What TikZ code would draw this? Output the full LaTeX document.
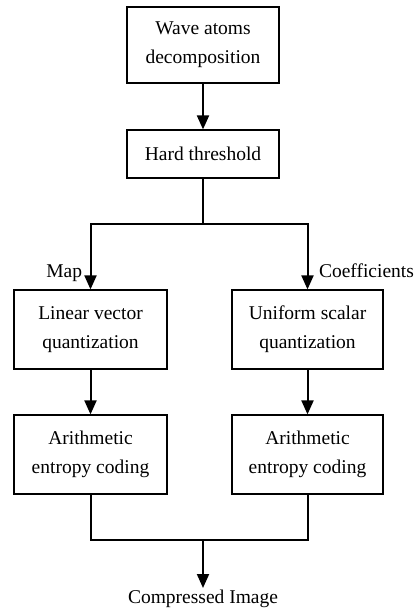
\documentclass[tikz,border=0pt]{standalone}
\usepackage{fontspec}
\setmainfont{Liberation Serif}
\usetikzlibrary{arrows.meta}

\begin{document}
\begin{tikzpicture}[x=1pt,y=-1pt,->,>={Triangle[width=12pt,length=14pt]},line width=2pt,
  block/.style={draw,line width=1.2pt,rectangle,align=center,inner sep=0pt,font=\fontsize{19.5}{29}\selectfont},
  lbl/.style={draw=none,inner sep=1pt,font=\fontsize{19.5}{29}\selectfont}]
 \useasboundingbox (0,0) rectangle (417,613);
 \node[block,minimum width=152pt,minimum height=76pt] (wave) at (203,45)    {Wave atoms\\decomposition};
 \node[block,minimum width=152pt,minimum height=48pt] (hard) at (203,154)   {Hard threshold};
 \node[block,minimum width=153pt,minimum height=79pt] (lvq)  at (90.5,329.5) {Linear vector\\quantization};
 \node[block,minimum width=151pt,minimum height=79pt] (usq)  at (307.5,329.5) {Uniform scalar\\quantization};
 \node[block,minimum width=153pt,minimum height=79pt] (ael)  at (90.5,454.5) {Arithmetic\\entropy coding};
 \node[block,minimum width=151pt,minimum height=79pt] (aer)  at (307.5,454.5) {Arithmetic\\entropy coding};
 \node[lbl,anchor=north]  (img)  at (203,588)  {Compressed Image};
 \node[lbl,anchor=east]   (map)  at (84,273)   {Map};
 \node[lbl,anchor=west]   (coef) at (317,271)  {Coefficients};
 \coordinate (split) at (203,224);
 \coordinate (merge) at (203,540);
 \path (wave) edge (hard)
       (lvq)  edge (ael)
       (usq)  edge (aer);
 \draw[-] (hard) -- (split);
 \draw (split) -| (lvq);
 \draw (split) -| (usq);
 \draw[-] (ael) |- (merge) -| (aer);
 \draw (merge) -- (img);
\end{tikzpicture}
\end{document}
